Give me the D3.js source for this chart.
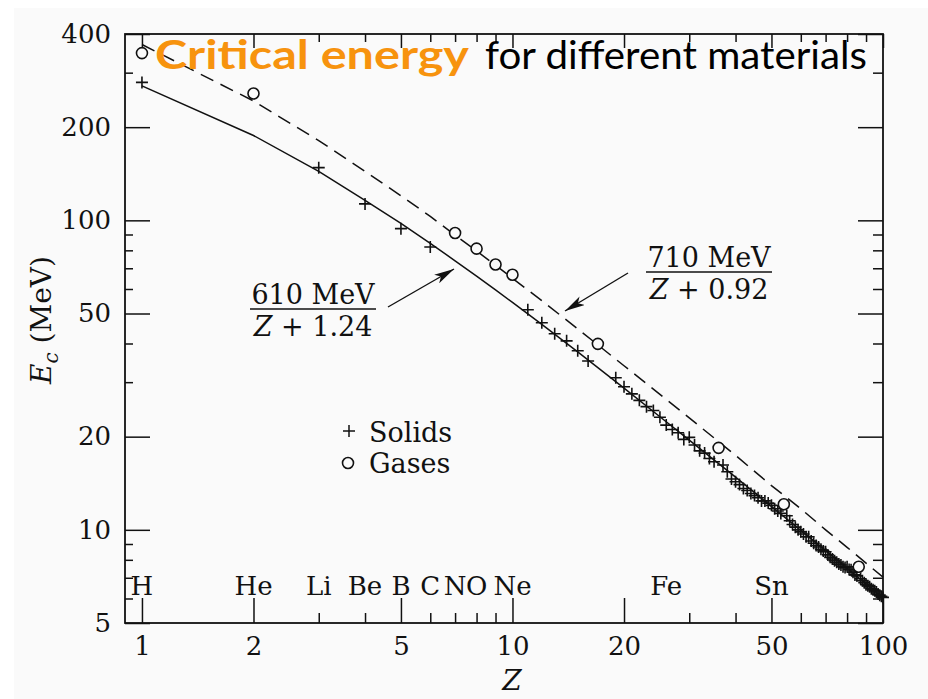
<!DOCTYPE html>
<html>
<head>
<meta charset="utf-8">
<script src="https://cdn.jsdelivr.net/npm/d3@7"></script>
<style>
  html, body { margin: 0; padding: 0; background: #fff; }
  svg { display: block; }
</style>
</head>
<body>
<div id="chart"></div>
<script>
var d3 = window.d3;

// x axis (atomic number Z)
var xMajor = [1, 2, 5, 10, 20, 50, 100];
var xMinor = [3, 4, 6, 7, 8, 9, 30, 40, 60, 70, 80, 90];
// y axis (critical energy, MeV)
var yLabelled = [5, 10, 20, 50, 100, 200, 400];
var yMinor = [6, 7, 8, 9, 30, 40, 60, 70, 80, 90, 300];

// element names along the bottom
var elemNames = ['H', 'He', 'Li', 'Be', 'B', 'C', 'N', 'O', 'Ne', 'Fe', 'Sn'];
var elemZ = [1, 2, 3, 4, 5, 6, 7, 8, 10, 26, 50];

// gases (circles)
var gasZ = [1, 2, 7, 8, 9, 10, 17, 36, 54, 86];
var gasEc = [347, 257, 91, 81, 72, 66.7, 39.9, 18.4, 12.1, 7.6];

// solids (+)
var solidZ = [1, 3, 4, 5, 6, 11, 12, 13, 14, 15, 16,
  19, 20, 21, 22, 23, 24, 25, 26, 27, 28, 29, 30, 31, 32, 33, 34, 35,
  37, 38, 39, 40, 41, 42, 43, 44, 45, 46, 47, 48, 49, 50, 51, 52, 53,
  55, 56, 57, 58, 59, 60, 61, 62, 63, 64, 65, 66, 67, 68, 69, 70,
  71, 72, 73, 74, 75, 76, 77, 78, 79, 80, 81, 82, 83, 84, 85,
  87, 88, 89, 90, 91, 92, 93, 94, 95, 96, 97, 98, 99, 100];
var solidEc = [279, 148, 113, 94, 82, 51.4, 46.7, 43.0, 40.8, 37.9, 35.1,
  31.0, 29.0, 27.5, 26.2, 25.0, 24.3, 23.1, 21.8, 21.1, 20.6, 19.6, 19.9, 18.8, 18.0, 17.7, 17.0, 16.6,
  16.2, 15.4, 14.6, 14.3, 14.0, 13.6, 13.4, 13.1, 12.9, 12.7, 12.4, 12.4, 12.2, 12.0, 11.7, 11.5, 11.3,
  11.1, 10.7, 10.4, 10.2, 10.0, 9.85, 9.7, 9.5, 9.5, 9.2, 9.05, 8.9, 8.8, 8.65, 8.55, 8.5,
  8.3, 8.15, 8.05, 7.95, 7.85, 7.75, 7.7, 7.6, 7.55, 7.6, 7.45, 7.43, 7.3, 7.15, 7.1,
  6.95, 6.85, 6.75, 6.65, 6.6, 6.55, 6.45, 6.4, 6.35, 6.3, 6.2, 6.15, 6.1, 6.05];

// fitted curves, read at these Z
var fitZ = [1, 2, 3, 4, 5, 6, 7, 8, 9, 10, 12, 15, 20, 25, 30, 40, 50, 60, 70, 80, 90, 100];
var solidFit = [272, 188, 144, 116, 97.8, 84.3, 74.0, 66.0, 59.6, 54.3, 46.1, 37.6, 28.7, 23.2, 19.5,
  14.8, 11.9, 9.96, 8.57, 7.51, 6.69, 6.03];
var gasFit = [370, 243, 181, 144, 120, 103, 89.6, 79.6, 71.6, 65.0, 55.0, 44.6, 33.9, 27.4, 23.0,
  17.4, 13.9, 11.7, 10.0, 8.78, 7.81, 7.03];

var width = 928, height = 699;
var plotLeft = 125, plotRight = 883, plotTop = 34, plotBottom = 623;
var serif = '"DejaVu Serif", serif';

var svg = d3.select('#chart').append('svg')
  .attr('width', width)
  .attr('height', height);

svg.append('rect')
  .attr('x', 14).attr('y', 8)
  .attr('width', width - 14).attr('height', height - 8)
  .attr('fill', '#fafafa');

var x = d3.scaleLog().domain([0.9, 100]).range([plotLeft, plotRight]);
var y = d3.scaleLog().domain([5, 400]).range([plotBottom, plotTop]);

function styleAxis(g) {
  g.select('.domain').remove();
  g.selectAll('line').attr('stroke', '#111').attr('stroke-width', 1.5);
  g.selectAll('text')
    .attr('fill', '#111')
    .style('font-family', serif)
    .style('font-size', '26px');
}

// bottom
svg.append('g').attr('transform', 'translate(0,' + plotBottom + ')')
  .call(d3.axisBottom(x).tickValues(xMajor).tickSize(-25).tickPadding(14)
    .tickFormat(d3.format('d')))
  .call(styleAxis);
svg.append('g').attr('transform', 'translate(0,' + plotBottom + ')')
  .call(d3.axisBottom(x).tickValues(xMinor).tickSize(-10).tickFormat(''))
  .call(styleAxis);
// top
svg.append('g').attr('transform', 'translate(0,' + plotTop + ')')
  .call(d3.axisTop(x).tickValues(xMajor).tickSize(-14).tickFormat(''))
  .call(styleAxis);
svg.append('g').attr('transform', 'translate(0,' + plotTop + ')')
  .call(d3.axisTop(x).tickValues(xMinor).tickSize(-8).tickFormat(''))
  .call(styleAxis);
// left
svg.append('g').attr('transform', 'translate(' + plotLeft + ',0)')
  .call(d3.axisLeft(y).tickValues(yLabelled).tickSize(-25).tickPadding(14)
    .tickFormat(d3.format('d')))
  .call(styleAxis);
svg.append('g').attr('transform', 'translate(' + plotLeft + ',0)')
  .call(d3.axisLeft(y).tickValues(yMinor).tickSize(-8).tickFormat(''))
  .call(styleAxis);
// right
svg.append('g').attr('transform', 'translate(' + plotRight + ',0)')
  .call(d3.axisRight(y).tickValues(yLabelled).tickSize(-25).tickFormat(''))
  .call(styleAxis);
svg.append('g').attr('transform', 'translate(' + plotRight + ',0)')
  .call(d3.axisRight(y).tickValues(yMinor).tickSize(-10).tickFormat(''))
  .call(styleAxis);

svg.append('rect')
  .attr('x', plotLeft).attr('y', plotTop)
  .attr('width', plotRight - plotLeft).attr('height', plotBottom - plotTop)
  .attr('fill', 'none')
  .attr('stroke', '#111')
  .attr('stroke-width', 1.8);

// axis titles
svg.append('text')
  .attr('x', 512).attr('y', 690)
  .attr('text-anchor', 'middle')
  .style('font-family', serif).style('font-size', '28px').style('font-style', 'italic')
  .attr('fill', '#111')
  .text('Z');

var yTitle = svg.append('text')
  .attr('transform', 'translate(51,320) rotate(-90)')
  .attr('text-anchor', 'middle')
  .style('font-family', serif).style('font-size', '28px')
  .attr('fill', '#111');
yTitle.append('tspan').style('font-style', 'italic').text('E');
yTitle.append('tspan').style('font-style', 'italic').style('font-size', '20px')
  .attr('dy', 7).text('c');
yTitle.append('tspan').attr('dy', -7).text(' (MeV)');

// element labels
svg.append('g').selectAll('text')
  .data(elemNames)
  .join('text')
  .attr('x', function(d, i) { return x(elemZ[i]); })
  .attr('y', 595)
  .attr('text-anchor', 'middle')
  .style('font-family', serif).style('font-size', '26px')
  .attr('fill', '#111')
  .text(function(d) { return d; });

// fitted lines
var line = d3.line()
  .x(function(d) { return x(d[0]); })
  .y(function(d) { return y(d[1]); });

svg.append('path')
  .datum(d3.zip(fitZ, gasFit))
  .attr('d', line)
  .attr('fill', 'none')
  .attr('stroke', '#111')
  .attr('stroke-width', 1.5)
  .attr('stroke-dasharray', '14,8');

svg.append('path')
  .datum(d3.zip(fitZ, solidFit))
  .attr('d', line)
  .attr('fill', 'none')
  .attr('stroke', '#111')
  .attr('stroke-width', 1.5);

// solids
svg.append('g').selectAll('path')
  .data(d3.zip(solidZ, solidEc))
  .join('path')
  .attr('transform', function(d) { return 'translate(' + x(d[0]) + ',' + y(d[1]) + ')'; })
  .attr('d', 'M-6,0H6M0,-6V6')
  .attr('stroke', '#111')
  .attr('stroke-width', 1.6)
  .attr('fill', 'none');

// gases
svg.append('g').selectAll('circle')
  .data(d3.zip(gasZ, gasEc))
  .join('circle')
  .attr('cx', function(d) { return x(d[0]); })
  .attr('cy', function(d) { return y(d[1]); })
  .attr('r', 5.5)
  .attr('fill', '#fafafa')
  .attr('stroke', '#111')
  .attr('stroke-width', 1.6);

// legend
var legend = svg.append('g');
legend.append('path')
  .attr('d', 'M343,431H355M349,425V437')
  .attr('stroke', '#111').attr('stroke-width', 1.5);
legend.append('circle')
  .attr('cx', 348).attr('cy', 463).attr('r', 5.5)
  .attr('fill', 'none').attr('stroke', '#111').attr('stroke-width', 1.6);
legend.append('text').attr('x', 369).attr('y', 442).text('Solids');
legend.append('text').attr('x', 369).attr('y', 473).text('Gases');
legend.selectAll('text')
  .style('font-family', serif).style('font-size', '27px').attr('fill', '#111');

// formula annotations
svg.append('defs').append('marker')
  .attr('id', 'head')
  .attr('viewBox', '0 0 20 10')
  .attr('refX', 20).attr('refY', 5)
  .attr('markerWidth', 20).attr('markerHeight', 10)
  .attr('markerUnits', 'userSpaceOnUse')
  .attr('orient', 'auto')
  .append('path')
  .attr('d', 'M0,0L20,5L0,10L5,5Z')
  .attr('fill', '#111');

function fraction(cx, numY, num, den) {
  var g = svg.append('g')
    .style('font-family', serif).style('font-size', '27px').attr('fill', '#111');
  g.append('text').attr('x', cx).attr('y', numY).attr('text-anchor', 'middle').text(num);
  g.append('line')
    .attr('x1', cx - 63).attr('x2', cx + 63)
    .attr('y1', numY + 5).attr('y2', numY + 5)
    .attr('stroke', '#111').attr('stroke-width', 1.5);
  var t = g.append('text').attr('x', cx).attr('y', numY + 32).attr('text-anchor', 'middle');
  t.append('tspan').style('font-style', 'italic').text('Z');
  t.append('tspan').text(' + ' + den);
}

fraction(313, 304, '610 MeV', '1.24');
fraction(709, 267, '710 MeV', '0.92');

svg.append('line')
  .attr('x1', 388).attr('y1', 307).attr('x2', 454).attr('y2', 269)
  .attr('stroke', '#111').attr('stroke-width', 1.4)
  .attr('marker-end', 'url(#head)');
svg.append('line')
  .attr('x1', 628).attr('y1', 273).attr('x2', 565).attr('y2', 311)
  .attr('stroke', '#111').attr('stroke-width', 1.4)
  .attr('marker-end', 'url(#head)');

// title, two parts squeezed to the widths they take in the slide
var titleFont = 'Lato, "Open Sans", sans-serif';
svg.append('text')
  .attr('x', 155).attr('y', 69)
  .attr('textLength', 314)
  .attr('lengthAdjust', 'spacingAndGlyphs')
  .style('font-family', titleFont).style('font-size', '40px').style('font-weight', 'bold')
  .attr('fill', '#f7930e')
  .text('Critical energy');
svg.append('text')
  .attr('x', 485).attr('y', 69)
  .attr('textLength', 382)
  .attr('lengthAdjust', 'spacingAndGlyphs')
  .style('font-family', titleFont).style('font-size', '38px')
  .attr('fill', '#000')
  .text('for different materials');
</script>
</body>
</html>
